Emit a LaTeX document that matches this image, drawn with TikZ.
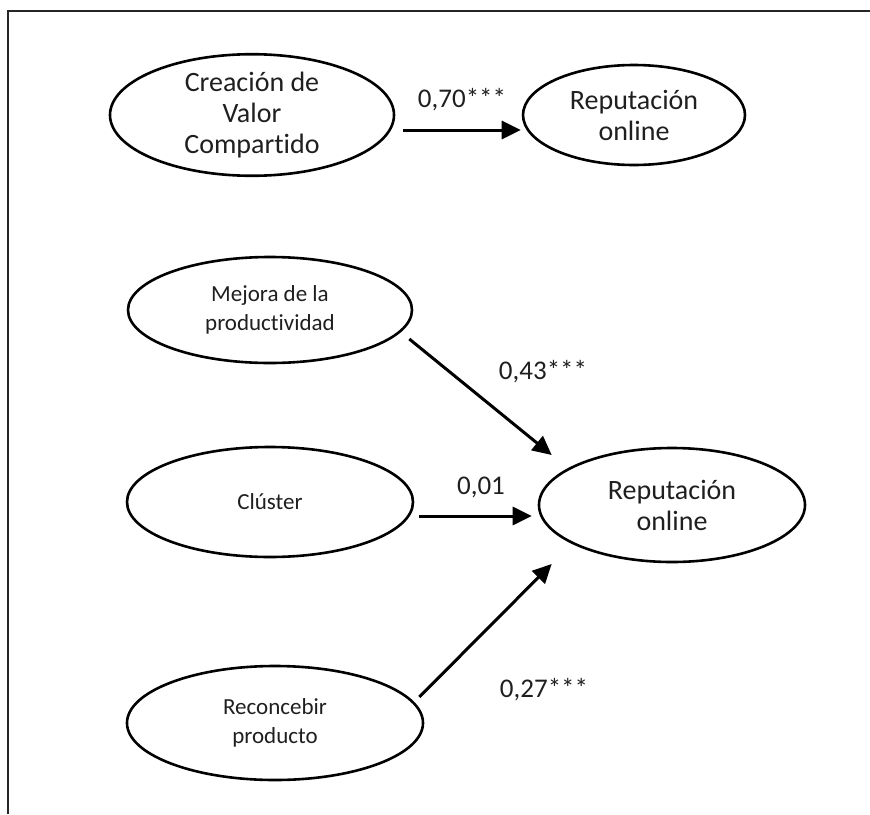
\documentclass[tikz,border=0pt]{standalone}
\usepackage{fontspec}
\setmainfont{Carlito}[Ligatures=NoCommon]
\usetikzlibrary{shapes.geometric,arrows.meta,calc}
\tikzset{
  construct/.style={ellipse, draw=black, line width=2.6pt, inner sep=0pt,
    align=center, text=black!88},
  bigtext/.style={font=\fontsize{28}{31}\selectfont},
  smalltext/.style={font=\fontsize{23}{29}\selectfont},
  path arrow/.style={line width=3pt, -{Triangle[length=19pt,width=18pt]}},
  coef/.style={font=\fontsize{27}{30}\selectfont, text=black!88, inner sep=0pt}
}
\begin{document}
\begin{tikzpicture}[x=1pt,y=-1pt]
  \useasboundingbox (0,0) rectangle (870,814);
  % frame lines
  \draw[line width=2.6pt, black!85] (8,814) -- (8,11) -- (870,11);

  % overall model
  \node[construct, bigtext, minimum width=284pt, minimum height=106pt] (cvc) at (252,115)
    {Creación de\\Valor\\Compartido};
  \node[construct, bigtext, minimum width=222pt, minimum height=100pt] (rep1) at (634,115)
    {Reputación\\online};
  \draw[path arrow] ($(cvc.east)+(8,15)$) -- ($(rep1.west)+(-1,15)$);
  \node[coef] (c70) at (462,100) {0,70***};

  % dimensions model
  \node[construct, smalltext, minimum width=284pt, minimum height=106pt] (mej) at (270,310)
    {Mejora de la\\productividad};
  \node[construct, smalltext, minimum width=286pt, minimum height=110pt] (clu) at (270,502)
    {Clúster};
  \node[construct, smalltext, minimum width=296pt, minimum height=114pt] (rec) at (275,723)
    {Reconcebir\\producto};
  \node[construct, bigtext, minimum width=266pt, minimum height=114pt] (rep2) at (672,505)
    {Reputación\\online};

  \draw[path arrow] ($(mej.east)+(-4,29)$) -- ($(rep2.west)+(14,-50)$);
  \draw[path arrow] ($(clu.east)+(5,14)$) -- ($(rep2.west)+(-6,11)$);
  \draw[path arrow] ($(rec.east)+(-5,-26)$) -- ($(rep2.west)+(14,59)$);

  \node[coef] (c43) at (543,372) {0,43***};
  \node[coef] (c01) at (481,487) {0,01};
  \node[coef] (c27) at (544,690) {0,27***};
\end{tikzpicture}
\end{document}
